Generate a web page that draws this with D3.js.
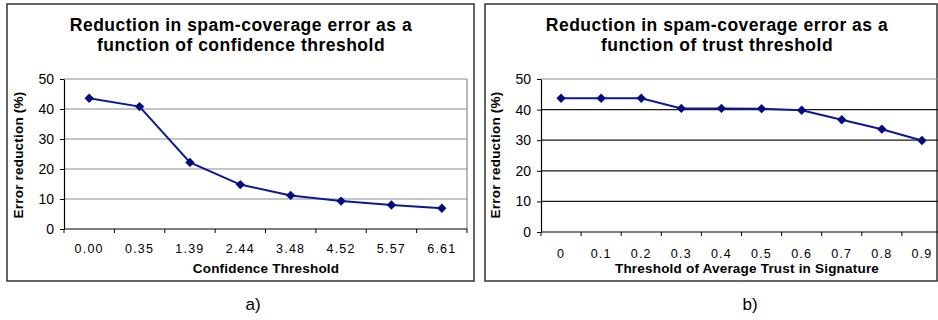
<!DOCTYPE html>
<html>
<head>
<meta charset="utf-8">
<script src="https://cdn.jsdelivr.net/npm/d3@7"></script>
<style>
  body { margin: 0; background: #fff; }
  svg { display: block; font-family: "Liberation Sans", Arial, sans-serif; }
  .tick-label { font-size: 12.5px; letter-spacing: 1.2px; }
  .axis-title { font-size: 13.5px; font-weight: bold; letter-spacing: 0.2px; }
  .chart-title { font-size: 17.5px; font-weight: bold; letter-spacing: 0.5px; }
</style>
</head>
<body>
<svg id="chart"></svg>
<script>
// panel a) confidence threshold
const confidenceLabels = ["0.00", "0.35", "1.39", "2.44", "3.48", "4.52", "5.57", "6.61"];
const confidenceValues = [43.6, 40.8, 22.2, 14.8, 11.2, 9.3, 8.0, 6.9];

// panel b) trust threshold
const trustLabels = ["0", "0.1", "0.2", "0.3", "0.4", "0.5", "0.6", "0.7", "0.8", "0.9"];
const trustValues = [43.7, 43.7, 43.7, 40.4, 40.4, 40.3, 39.8, 36.7, 33.6, 29.9];

const yTicks = [0, 10, 20, 30, 40, 50];

const svg = d3.select("#chart").attr("width", 938).attr("height", 320);

function drawPanel(cfg) {
  // outer frame
  svg.append("rect")
      .attr("x", cfg.box[0]).attr("y", cfg.box[1])
      .attr("width", cfg.box[2]).attr("height", cfg.box[3])
      .attr("fill", "none")
      .attr("stroke", "#333")
      .attr("stroke-width", 1.5);

  const x = d3.scaleBand()
      .domain(cfg.labels)
      .range([cfg.left, cfg.right]);
  const y = d3.scaleLinear()
      .domain([0, 50])
      .range([cfg.bottom, cfg.top]);

  const g = svg.append("g");

  // gridlines
  g.selectAll(".grid")
      .data(yTicks.filter(d => d > 0))
      .join("line")
      .attr("x1", cfg.left).attr("x2", cfg.right)
      .attr("y1", d => y(d)).attr("y2", d => y(d))
      .attr("stroke", d => (d === 50 ? "#8c8c8c" : cfg.gridColor))
      .attr("stroke-width", 1.2);

  if (cfg.rightBorder) {
    g.append("line")
        .attr("x1", cfg.right).attr("x2", cfg.right)
        .attr("y1", cfg.top).attr("y2", cfg.bottom)
        .attr("stroke", "#8c8c8c").attr("stroke-width", 1.2);
  }

  // y axis
  const yAxis = g.append("g")
      .attr("transform", `translate(${cfg.left},0)`)
      .call(d3.axisLeft(y).tickValues(yTicks).tickSize(4).tickSizeOuter(0).tickPadding(6));
  yAxis.attr("font-family", null).attr("font-size", null);
  yAxis.select(".domain").attr("stroke", "#000").attr("stroke-width", 1.2);
  yAxis.selectAll(".tick line").attr("stroke", "#000");
  yAxis.selectAll("text")
      .style("font-size", "14px")
      .attr("fill", "#000");

  // x axis with ticks at category boundaries
  const xAxis = g.append("g")
      .attr("transform", `translate(0,${cfg.bottom})`);
  xAxis.append("line")
      .attr("x1", cfg.left).attr("x2", cfg.right)
      .attr("stroke", "#000").attr("stroke-width", 1.2);
  const edges = cfg.labels.map(d => x(d)).concat([x(cfg.labels[cfg.labels.length - 1]) + x.bandwidth()]);
  xAxis.selectAll(".edge")
      .data(edges)
      .join("line")
      .attr("x1", d => d).attr("x2", d => d)
      .attr("y1", 0).attr("y2", 4)
      .attr("stroke", "#000");
  xAxis.selectAll(".tick-label")
      .data(cfg.labels)
      .join("text")
      .attr("class", "tick-label")
      .attr("x", d => x(d) + x.bandwidth() / 2)
      .attr("y", cfg.tickLabelY - cfg.bottom)
      .attr("text-anchor", "middle")
      .text(d => d);

  // line + diamond markers
  const pts = cfg.labels.map((d, i) => [x(d) + x.bandwidth() / 2, y(cfg.values[i])]);
  g.append("path")
      .attr("d", d3.line()(pts))
      .attr("fill", "none")
      .attr("stroke", "#0c1a90")
      .attr("stroke-width", 2);
  g.selectAll(".marker")
      .data(pts)
      .join("path")
      .attr("d", d3.symbol(d3.symbolDiamond2, 56)())
      .attr("transform", d => `translate(${d[0]},${d[1]})`)
      .attr("fill", "#000c80");

  // titles
  const title = svg.append("text")
      .attr("class", "chart-title")
      .attr("text-anchor", "middle");
  cfg.title.forEach((t, i) => {
    title.append("tspan")
        .attr("x", cfg.titleX)
        .attr("y", 31 + i * 20)
        .text(t);
  });

  svg.append("text")
      .attr("class", "axis-title")
      .attr("x", cfg.xTitleX)
      .attr("y", 273)
      .attr("text-anchor", "middle")
      .text(cfg.xTitle);

  svg.append("text")
      .attr("class", "axis-title")
      .attr("transform", `translate(${cfg.yTitleX},155) rotate(-90)`)
      .attr("text-anchor", "middle")
      .text("Error reduction (%)");

  svg.append("text")
      .attr("x", cfg.captionX)
      .attr("y", 310)
      .attr("text-anchor", "middle")
      .style("font-size", "17px")
      .text(cfg.caption);
}

drawPanel({
  box: [7, 4, 467, 277],
  labels: confidenceLabels,
  values: confidenceValues,
  left: 64, right: 467, top: 79, bottom: 229,
  gridColor: "#8c8c8c",
  rightBorder: true,
  tickLabelY: 253,
  title: ["Reduction in spam-coverage error as a", "function of confidence threshold"],
  titleX: 241,
  xTitle: "Confidence Threshold",
  xTitleX: 266,
  yTitleX: 23,
  caption: "a)",
  captionX: 253
});

drawPanel({
  box: [485, 4, 452, 277],
  labels: trustLabels,
  values: trustValues,
  left: 541, right: 942, top: 79, bottom: 232,
  gridColor: "#1a1a1a",
  rightBorder: false,
  tickLabelY: 258,
  title: ["Reduction in spam-coverage error as a", "function of trust threshold"],
  titleX: 717,
  xTitle: "Threshold of Average Trust in Signature",
  xTitleX: 747,
  yTitleX: 500,
  caption: "b)",
  captionX: 750
});
</script>
</body>
</html>
